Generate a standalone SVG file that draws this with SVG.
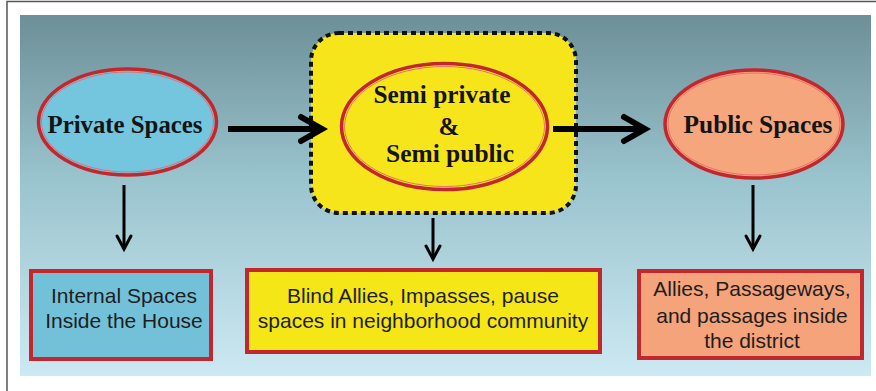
<svg xmlns="http://www.w3.org/2000/svg" width="876" height="391" viewBox="0 0 876 391">
<defs>
<linearGradient id="bg" x1="0" y1="0" x2="0" y2="1">
<stop offset="0" stop-color="#6d8f97"/>
<stop offset="0.45" stop-color="#99c3cd"/>
<stop offset="1" stop-color="#cde9f3"/>
</linearGradient>
<marker id="bigHead" markerUnits="userSpaceOnUse" markerWidth="32" markerHeight="32" refX="24" refY="15" orient="auto" overflow="visible">
<path d="M3,3 L24,15 L3,27" fill="none" stroke="#000" stroke-width="6" stroke-linecap="round" stroke-linejoin="miter"/>
</marker>
<marker id="smallHead" markerUnits="userSpaceOnUse" markerWidth="20" markerHeight="20" refX="15" refY="9" orient="auto" overflow="visible">
<path d="M2,2 L15,9 L2,16" fill="none" stroke="#000" stroke-width="3" stroke-linecap="round"/>
</marker>
</defs>
<style>
.oval{stroke:#c1272d;stroke-width:3.5}
.ovalIn{fill:none;stroke:#e8706f;stroke-width:1}
.box{stroke:#c1272d;stroke-width:4}
.st{font-family:"Liberation Serif","Times New Roman",serif;font-weight:bold;font-size:25px;fill:#141414;text-anchor:middle}
.bt{font-family:"Liberation Sans",Arial,sans-serif;font-size:21px;fill:#1e1e1e;text-anchor:middle}
.big{stroke:#000;stroke-width:6;fill:none}
.small{stroke:#000;stroke-width:3;fill:none}
</style>
<rect x="0" y="0" width="876" height="391" fill="#fff"/>
<path d="M7,391 L7,1.5 L876,1.5" fill="none" stroke="#555" stroke-width="1.5"/>
<rect x="20" y="15" width="851" height="361" fill="url(#bg)"/>

<g id="semi-frame">
<rect x="311" y="33" width="265" height="180" rx="28" fill="#f7e51c" stroke="#111" stroke-width="4" stroke-dasharray="5 4"/>
</g>

<g id="connectors">
<line x1="228" y1="129" x2="322" y2="129" class="big" marker-end="url(#bigHead)"/>
<line x1="553" y1="129" x2="645" y2="129" class="big" marker-end="url(#bigHead)"/>
<line x1="124" y1="185" x2="124" y2="249" class="small" marker-end="url(#smallHead)"/>
<line x1="433" y1="218" x2="433" y2="259" class="small" marker-end="url(#smallHead)"/>
<line x1="753" y1="185" x2="753" y2="249" class="small" marker-end="url(#smallHead)"/>
</g>

<g id="private">
<ellipse cx="127.5" cy="122" rx="89" ry="53" fill="#74c5de" class="oval"/>
<ellipse cx="127.5" cy="122" rx="86" ry="50" class="ovalIn"/>
<text x="125" y="133" class="st" textLength="155" lengthAdjust="spacingAndGlyphs">Private Spaces</text>
</g>

<g id="semi">
<ellipse cx="444.5" cy="126.5" rx="103" ry="63" fill="#f7e51c" class="oval"/>
<ellipse cx="444.5" cy="126.5" rx="100" ry="60" class="ovalIn"/>
<text x="442" y="103" class="st" textLength="137" lengthAdjust="spacingAndGlyphs">Semi private</text>
<text x="449" y="135" class="st">&amp;</text>
<text x="450" y="162" class="st" textLength="128" lengthAdjust="spacingAndGlyphs">Semi public</text>
</g>

<g id="public">
<ellipse cx="754" cy="124" rx="89" ry="54" fill="#f5a67c" class="oval"/>
<ellipse cx="754" cy="124" rx="86" ry="51" class="ovalIn"/>
<text x="758" y="133" class="st" textLength="149" lengthAdjust="spacingAndGlyphs">Public Spaces</text>
</g>

<g id="internal">
<rect x="31" y="271" width="180" height="88" fill="#73c1d9" class="box"/>
<text x="124" y="303" class="bt">Internal Spaces</text>
<text x="124" y="328" class="bt">Inside the House</text>
</g>

<g id="blind">
<rect x="247" y="270" width="353" height="82" fill="#f5e617" class="box"/>
<text x="423" y="303" class="bt">Blind Allies, Impasses, pause</text>
<text x="423" y="328" class="bt">spaces in neighborhood community</text>
</g>

<g id="allies">
<rect x="639" y="271" width="223" height="87" fill="#f4a37b" class="box"/>
<text x="752" y="296" class="bt">Allies, Passageways,</text>
<text x="752" y="323" class="bt">and passages inside</text>
<text x="752" y="348" class="bt">the district</text>
</g>
</svg>
